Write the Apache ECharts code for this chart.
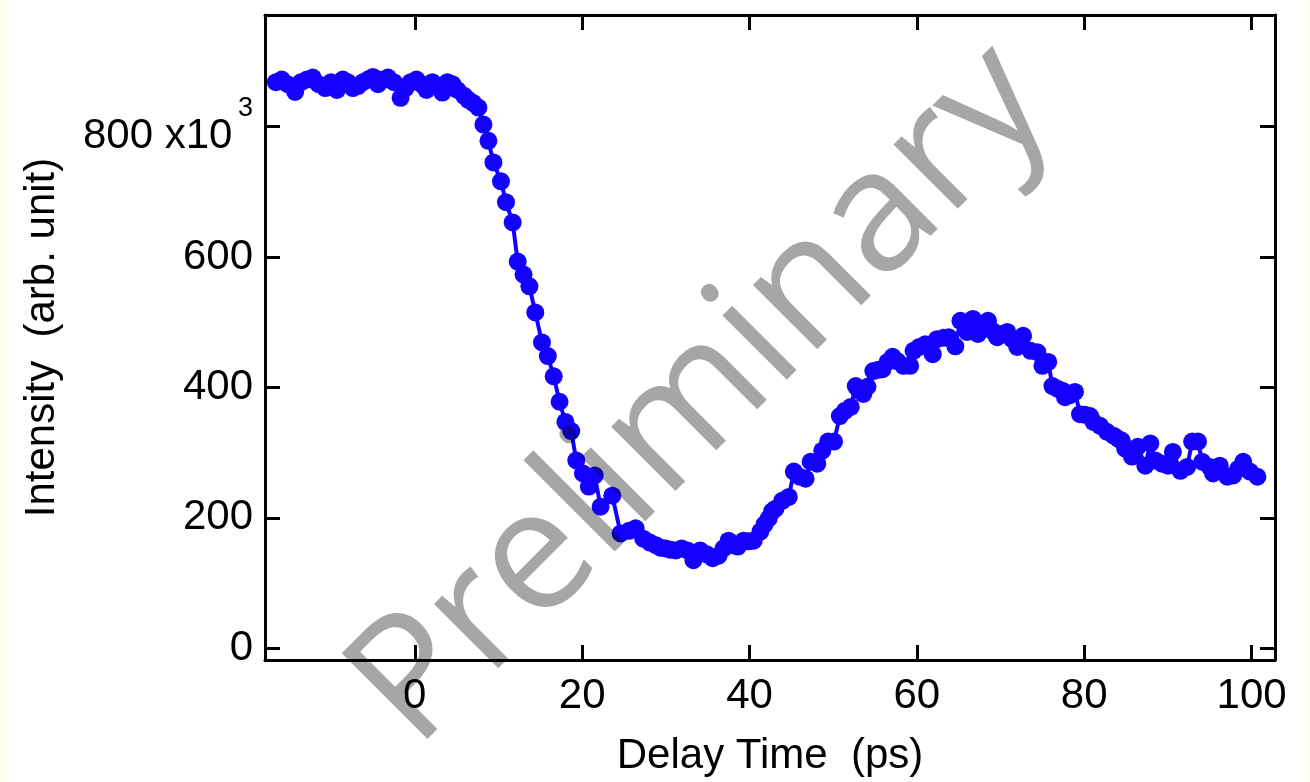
<!DOCTYPE html>
<html>
<head>
<meta charset="utf-8">
<script src="https://cdn.jsdelivr.net/npm/echarts@6/dist/echarts.min.js"></script>
<style>
  html, body { margin: 0; padding: 0; background: #fffff0; }
  #chart { position: absolute; left: 8px; top: 0; width: 1300px; height: 782px; background: #ffffff; }
</style>
</head>
<body>
<div id="chart"></div>
<script>
// Pump-probe delay scan: delay time (ps) and intensity (x10^3, arb. unit)
const delayPs = [
  -16.6, -15.9, -15.2, -14.3, -13.6, -12.9, -12.2, -11.5, -10.7, -10.0,
  -9.3, -8.6, -8.0, -7.4, -6.8, -6.2, -5.6, -5.0, -4.4, -3.8,
  -3.2, -2.5, -1.7, -1.1, -0.5, 0.2, 0.8, 1.4, 2.1, 2.7,
  3.3, 3.9, 4.5, 5.1, 5.9, 6.4, 7.0, 7.6,
  8.2, 8.8, 9.4, 10.3, 10.9, 11.7, 12.3, 13.0, 13.7, 14.4,
  15.2, 15.9, 16.6, 17.3, 18.0, 18.7, 19.3, 20.1, 20.8, 21.5,
  22.2, 23.6, 24.6,
  25.6, 26.4, 27.3, 28.1, 28.8, 29.4, 30.0, 30.6, 31.2, 31.9,
  32.6, 33.3, 34.1, 34.9, 35.6, 36.3, 36.9, 37.5, 38.1, 38.6,
  39.3, 39.9, 40.5, 41.3, 41.8, 42.3, 42.7, 43.1, 43.9, 44.7,
  45.3, 46.0, 46.7, 47.3, 48.1, 48.7, 49.4, 50.1, 50.8, 51.4,
  52.1, 52.7, 53.1, 53.6, 54.1, 54.8, 55.4, 55.9, 56.5, 57.1,
  57.7, 58.4, 59.2, 59.6, 60.3, 61.0, 61.9, 62.4, 63.2, 63.8,
  64.6, 65.2, 66.0, 66.7, 67.3, 67.9, 68.5, 69.1, 69.6, 70.2,
  70.8, 71.4, 72.0, 72.7, 73.6, 74.4, 75.0, 75.7, 76.2, 76.8,
  77.4, 77.7, 78.3, 78.9, 79.5, 80.1, 80.7, 81.1, 81.9, 82.7,
  83.5, 84.1, 84.5, 84.9, 85.7, 86.4, 87.3, 87.9, 88.5, 89.3,
  90.0, 90.6, 91.5, 92.3, 92.9, 93.6, 94.1, 95.0, 95.4, 96.2,
  97.1, 97.8, 98.4, 99.0, 99.8, 100.7
];
const intensityK = [
  868, 872, 865, 853, 868, 872, 875, 865, 859, 868,
  856, 872, 868, 859, 862, 868, 872, 876, 865, 872,
  875, 868, 844, 859, 868, 872, 865, 856, 868, 862,
  852, 868, 865, 856, 847, 841, 836, 829,
  803, 778, 745, 716, 684, 653, 593, 573, 555, 515,
  469, 448, 417, 378, 347, 333, 288, 268, 248, 265,
  217, 234, 176,
  180, 184, 168, 162, 158, 154, 153, 151, 150, 153,
  150, 135, 150, 144, 138, 142, 153, 165, 158, 156,
  165, 164, 165, 179, 190, 199, 210, 214, 226, 232,
  271, 263, 260, 286, 283, 303, 317, 317, 356, 364,
  370, 402, 395, 390, 401, 425, 427, 428, 439, 447,
  440, 433, 433, 456, 462, 466, 451, 474, 476, 477,
  463, 502, 485, 505, 482, 492, 502, 486, 477, 482,
  485, 474, 462, 479, 456, 454, 433, 439, 402, 398,
  395, 385, 388, 393, 359, 358, 356, 347, 341, 332,
  326, 321, 318, 306, 294, 309, 280, 314, 288, 283,
  280, 301, 272, 278, 317, 317, 286, 278, 268, 280,
  263, 265, 275, 286, 271, 263
];
const xTicks = [0, 20, 40, 60, 80, 100];
const yTicks = [0, 200, 400, 600, 800];
const xRange = [-17.9, 102.8];
const yRange = [-18, 971];

const FONT = 'Liberation Sans, Arial, Helvetica, sans-serif';
const INK = '#000000';
const BLUE = '#1400ff';

const frameLine = { show: true, onZero: false, lineStyle: { color: INK, width: 3 } };
const frameTick = (vals) => ({
  show: true, inside: true, length: 15, customValues: vals,
  lineStyle: { color: INK, width: 3 }
});

const chart = echarts.init(document.getElementById('chart'), null, { renderer: 'canvas' });

chart.setOption({
  animation: false,
  backgroundColor: '#ffffff',
  grid: { left: 257, right: 33, top: 15, bottom: 120, containLabel: false },
  xAxis: [
    {
      type: 'value', position: 'bottom', min: xRange[0], max: xRange[1],
      axisLine: frameLine, axisTick: frameTick(xTicks), splitLine: { show: false },
      axisLabel: { customValues: xTicks, fontSize: 42, fontFamily: FONT, color: INK, margin: 15 },
      name: 'Delay Time  (ps)', nameLocation: 'middle', nameGap: 75,
      nameTextStyle: { fontSize: 42, fontFamily: FONT, color: INK }
    },
    {
      type: 'value', position: 'top', min: xRange[0], max: xRange[1],
      axisLine: frameLine, axisTick: frameTick(xTicks), splitLine: { show: false },
      axisLabel: { show: false }
    }
  ],
  yAxis: [
    {
      type: 'value', position: 'left', min: yRange[0], max: yRange[1],
      axisLine: frameLine, axisTick: frameTick(yTicks), splitLine: { show: false },
      axisLabel: {
        customValues: yTicks, fontSize: 42, fontFamily: FONT, color: INK, margin: 12,
        // 800 carries the x10^3 multiplier with a raised exponent
        formatter: (v) => (v === 800 ? '{n|800 x10}{g| }{s|3}' : String(v)),
        rich: {
          n: { fontSize: 42, fontFamily: FONT, color: INK, lineHeight: 42, verticalAlign: 'bottom' },
          g: { fontSize: 20, fontFamily: FONT, color: INK, lineHeight: 62, verticalAlign: 'bottom' },
          s: { fontSize: 27, fontFamily: FONT, color: INK, lineHeight: 27, verticalAlign: 'top' }
        }
      },
      name: 'Intensity  (arb. unit)', nameLocation: 'middle', nameGap: 202,
      nameTextStyle: { fontSize: 42, fontFamily: FONT, color: INK }
    },
    {
      type: 'value', position: 'right', min: yRange[0], max: yRange[1],
      axisLine: frameLine, axisTick: frameTick(yTicks), splitLine: { show: false },
      axisLabel: { show: false }
    }
  ],
  series: [
    {
      type: 'line',
      xAxisIndex: 0, yAxisIndex: 0,
      data: delayPs.map((d, i) => [d, intensityK[i]]),
      symbol: 'circle', symbolSize: 18, showSymbol: true, showAllSymbol: true,
      itemStyle: { color: BLUE },
      lineStyle: { color: BLUE, width: 4 },
      z: 3
    }
  ],
  graphic: [
    {
      type: 'text', x: 694, y: 396, rotation: Math.PI / 4, z: 100,
      style: {
        text: 'Preliminary',
        font: '500 170px "Open Sans", sans-serif',
        fill: 'rgba(0,0,0,0.35)',
        align: 'center', verticalAlign: 'middle'
      }
    }
  ]
});
</script>
</body>
</html>
